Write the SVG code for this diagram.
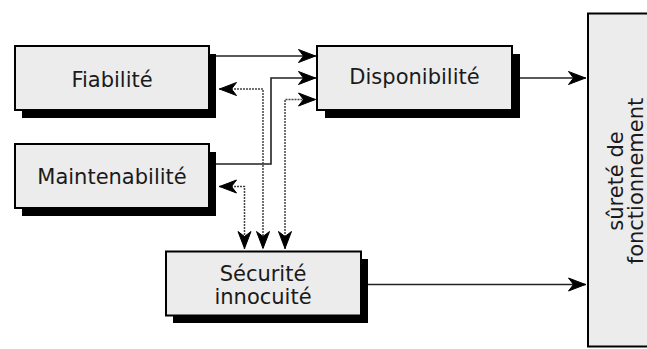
<svg xmlns="http://www.w3.org/2000/svg" width="647" height="349" viewBox="0 0 647 349">
  <style>
    .box { fill: #ececec; stroke: #000; stroke-width: 2; }
    .shadow { fill: #000; }
    .lbl { font-family: "DejaVu Sans", sans-serif; font-size: 21px; fill: #1a1a1a; text-anchor: middle; }
    .solid { fill: none; stroke: #222; stroke-width: 1.6; marker-end: url(#arr); }
    .dotted { fill: none; stroke: #444; stroke-width: 1.5; stroke-dasharray: 2 1; marker-start: url(#arr); marker-end: url(#arr); }
  </style>
  <defs>
    <marker id="arr" markerUnits="userSpaceOnUse" viewBox="-20 -8 22 16" markerWidth="22" markerHeight="16" refX="0" refY="0" orient="auto-start-reverse" overflow="visible">
      <path d="M-0.5,0 L-17.5,-6.5 L-12.5,0 L-17.5,6.5 Z" fill="#000" stroke="#000" stroke-width="1" stroke-linejoin="miter" stroke-dasharray="none"/>
    </marker>
  </defs>
  <rect width="647" height="349" fill="#fff"/>

  <g id="surete">
    <rect x="588" y="13.5" width="70" height="333" class="box"/>
    <text class="lbl" transform="translate(623,181) rotate(-90)">sûreté de</text>
    <text class="lbl" transform="translate(643,181) rotate(-90)">fonctionnement</text>
  </g>

  <g id="fiabilite">
    <rect x="22" y="54" width="194" height="64" class="shadow"/>
    <rect x="15" y="46" width="194" height="64" class="box"/>
    <text class="lbl" x="112" y="87">Fiabilité</text>
  </g>

  <g id="maintenabilite">
    <rect x="22" y="152" width="194" height="64" class="shadow"/>
    <rect x="15" y="144" width="194" height="64" class="box"/>
    <text class="lbl" x="112" y="184">Maintenabilité</text>
  </g>

  <g id="disponibilite">
    <rect x="325" y="54" width="195" height="64" class="shadow"/>
    <rect x="317" y="46" width="195" height="64" class="box"/>
    <text class="lbl" x="414.5" y="84">Disponibilité</text>
  </g>

  <g id="securite">
    <rect x="173" y="259" width="195" height="64" class="shadow"/>
    <rect x="166" y="251.5" width="195" height="64" class="box"/>
    <text class="lbl" x="263" y="281">Sécurité</text>
    <text class="lbl" x="263" y="303.5">innocuité</text>
  </g>

  <g id="connectors">
    <path class="solid" d="M216,56 H316"/>
    <path class="solid" d="M216,164 H271 V78 H316"/>
    <path class="solid" d="M520,78 H586"/>
    <path class="solid" d="M368,284.5 H586"/>
    <path class="dotted" d="M219,89 H263 V249"/>
    <path class="dotted" d="M219,186.5 H244.5 V249"/>
    <path class="dotted" d="M285,249 V99.5 H316"/>
  </g>
</svg>
